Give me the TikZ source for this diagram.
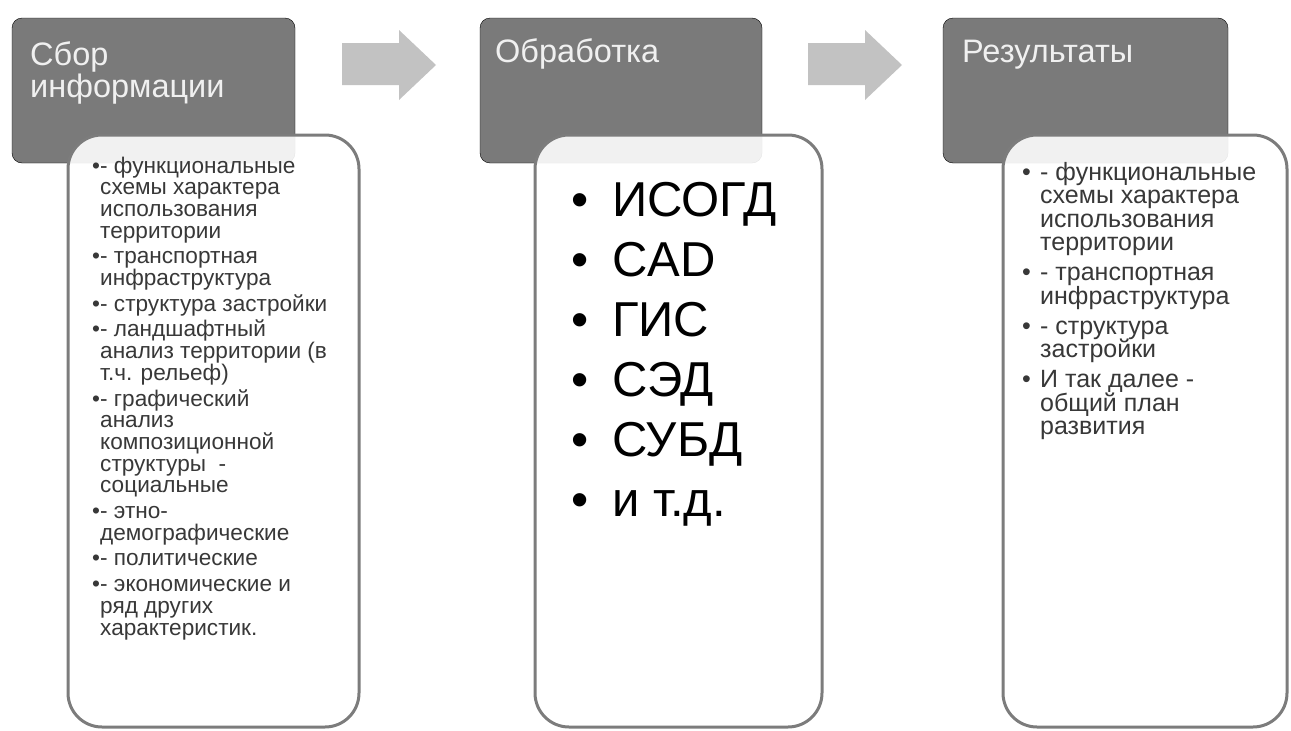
\documentclass[tikz,border=0pt]{standalone}
\usepackage{fontspec}
\setmainfont{Liberation Sans}
\usetikzlibrary{positioning}
\definecolor{kopfgrau}{HTML}{7A7A7A}
\definecolor{randgrau}{HTML}{7C7C7C}
\definecolor{pfeilgrau}{HTML}{C2C2C2}

\tikzset{
  kopfbox/.style={fill=kopfgrau, rounded corners=10pt},
  listbox/.style={draw=randgrau, line width=3pt, fill=white, fill opacity=0.9, rounded corners=34pt},
  kopftext/.style={anchor=base west, inner sep=0pt, text=white!94!black, font=\fontsize{32.5}{32}\selectfont},
  listtext/.style={anchor=base west, inner sep=0pt, text=black!78}
}
\newlength\einzug
\newcommand{\pkt}[1]{\makebox[#1][l]{•}}
\newcommand{\erste}[1]{\hbox{\pkt{\einzug}#1}}
\newcommand{\weiter}[1]{\hbox{\hspace*{\einzug}#1}}
\newcommand{\zeilen}[2]{\vtop{\baselineskip=#1\lineskiplimit=-\maxdimen #2}}

\begin{document}
\begin{tikzpicture}[x=1pt,y=-1pt]
        \useasboundingbox (0,0) rectangle (1291,731);

        % Stufe 1
        \draw[kopfbox] (12,18) rectangle (295,163);
        \draw[listbox] (68,135) rectangle (359,727);
        \node[kopftext] (kopf1) at (30,65) {\zeilen{32pt}{\hbox{Сбор}\hbox{информации}}};
        \node[listtext, font=\fontsize{22.6}{21.7}\selectfont] (liste1) at (92,173) {\setlength\einzug{8pt}%
          \zeilen{21.7pt}{%
            \erste{- функциональные}\weiter{схемы характера}\weiter{использования}\weiter{территории}\vskip4pt
            \erste{- транспортная}\weiter{инфраструктура}\vskip4pt
            \erste{- структура застройки}\vskip4pt
            \erste{- ландшафтный}\weiter{анализ территории (в}\weiter{т.ч. рельеф)}\vskip4pt
            \erste{- графический}\weiter{анализ}\weiter{композиционной}\weiter{структуры\ \ -}\weiter{социальные}\vskip4pt
            \erste{- этно-}\weiter{демографические}\vskip4pt
            \erste{- политические}\vskip4pt
            \erste{- экономические и}\weiter{ряд других}\weiter{характеристик.}}};

        % Stufe 2
        \draw[kopfbox] (480,18) rectangle (762,163);
        \draw[listbox] (535,135) rectangle (822,727);
        \node[kopftext] (kopf2) at (495,62) {Обработка};
        \node[listtext, text=black, font=\fontsize{49}{60}\selectfont] (liste2) at (571,216) {\setlength\einzug{41pt}%
          \zeilen{60pt}{\erste{ИСОГД}\erste{CAD}\erste{ГИС}\erste{СЭД}\erste{СУБД}\erste{и т.д.}}};

        % Stufe 3
        \draw[kopfbox] (943,18) rectangle (1228,163);
        \draw[listbox] (1003,135) rectangle (1287,727);
        \node[kopftext] (kopf3) at (962,62) {Результаты};
        \node[listtext, font=\fontsize{25}{23.5}\selectfont] (liste3) at (1022,180) {\setlength\einzug{18pt}%
          \zeilen{23.5pt}{%
            \erste{- функциональные}\weiter{схемы характера}\weiter{использования}\weiter{территории}\vskip6.5pt
            \erste{- транспортная}\weiter{инфраструктура}\vskip6.5pt
            \erste{- структура}\weiter{застройки}\vskip6.5pt
            \erste{И так далее -}\weiter{общий план}\weiter{развития}}};

        % Pfeile
        \fill[pfeilgrau] (342,43) -- (399,43) -- (399,30) -- (436,65) -- (399,100) -- (399,85) -- (342,85) -- cycle;
        \fill[pfeilgrau] (808,43) -- (865,43) -- (865,30) -- (902,65) -- (865,100) -- (865,85) -- (808,85) -- cycle;
\end{tikzpicture}
\end{document}
